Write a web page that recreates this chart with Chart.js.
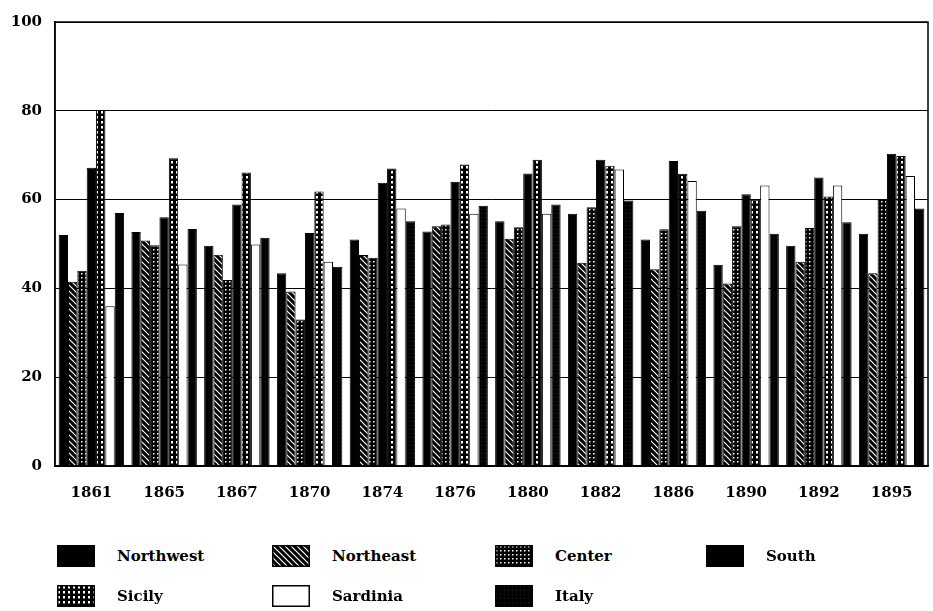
<!DOCTYPE html>
<html lang="en">
<head>
    <meta charset="UTF-8">
    <title>Voter turnout by region</title>
    <script src="https://cdn.jsdelivr.net/npm/chart.js"></script>
    <style>
        body { margin: 0; background: #fff; width: 933px; height: 611px; overflow: hidden; position: relative; }
        #grafico { position: absolute; left: 0; top: 0; }
        .legenda { position: absolute; left: 57px; top: 544px; display: grid;
            grid-template-columns: 215px 223px 211px 200px; row-gap: 16px;
            font-family: "DejaVu Serif", serif; font-weight: bold; font-size: 15px; color: #000; }
        .item { display: flex; align-items: center; height: 24px; }
        .item canvas { margin-right: 22px; }
    </style>
</head>
<body>
    <canvas id="grafico" width="933" height="520"></canvas>
    <div class="legenda" id="legenda"></div>

<script>
    const anos = ['1861', '1865', '1867', '1870', '1874', '1876', '1880', '1882', '1886', '1890', '1892', '1895'];
    const northwest = [52, 52.7, 49.6, 43.4, 51, 52.8, 55.1, 56.8, 51, 45.3, 49.6, 52.3];
    const northeast = [41.5, 50.8, 47.6, 39.3, 47.5, 54, 51.2, 45.8, 44.3, 41.1, 46, 43.4];
    const center = [44, 49.7, 41.9, 33, 46.9, 54.4, 53.8, 58.3, 53.3, 54, 53.6, 59.9];
    const south = [67.2, 56, 58.9, 52.5, 63.8, 64, 65.9, 69, 68.7, 61.2, 65, 70.3];
    const sicily = [80.2, 69.3, 66.1, 61.8, 67, 67.9, 69, 67.6, 65.8, 60, 60.7, 69.8];
    const sardinia = [36, 45.4, 49.9, 46, 58, 56.8, 56.8, 66.8, 64.2, 63.2, 63.2, 65.3];
    const italy = [57, 53.4, 51.4, 44.9, 55.1, 58.6, 58.9, 59.8, 57.5, 52.3, 54.9, 58];
    const ticksY = [0, 20, 40, 60, 80, 100];

    // padroes de preenchimento (preto e branco, como no original)
    function padrao(tam, desenho) {
        const c = document.createElement('canvas');
        c.width = tam; c.height = tam;
        const g = c.getContext('2d');
        desenho(g, tam);
        return g.createPattern(c, 'repeat');
    }
    const ctxBase = document.getElementById('grafico').getContext('2d');

    function fazerPadroes(g0) {
        return {
            solido: '#000',
            hachura: padrao(6, (g, t) => {
                g.fillStyle = '#000'; g.fillRect(0, 0, t, t);
                g.strokeStyle = '#fff'; g.lineWidth = 1.2;
                g.beginPath(); g.moveTo(0, 0); g.lineTo(t, t);
                g.moveTo(-1, t - 1); g.lineTo(1, t + 1);
                g.moveTo(t - 1, -1); g.lineTo(t + 1, 1); g.stroke();
            }),
            pontos: padrao(4, (g, t) => {
                g.fillStyle = '#000'; g.fillRect(0, 0, t, t);
                g.fillStyle = '#fff'; g.fillRect(1, 1, 1.5, 1.5);
            }),
            grade: padrao(5, (g, t) => {
                g.fillStyle = '#000'; g.fillRect(0, 0, t, t);
                g.fillStyle = '#fff'; g.fillRect(1, 1, 2, 2.5);
            }),
            italia: padrao(4, (g, t) => {
                g.fillStyle = '#000'; g.fillRect(0, 0, t, t);
                g.fillStyle = '#222'; g.fillRect(1, 1, 1, 1);
            })
        };
    }
    const p = fazerPadroes(ctxBase);

    const series = [
        { label: 'Northwest', data: northwest, fundo: p.solido, borda: '#000' },
        { label: 'Northeast', data: northeast, fundo: p.hachura, borda: '#000' },
        { label: 'Center', data: center, fundo: p.pontos, borda: '#000' },
        { label: 'South', data: south, fundo: p.solido, borda: '#000' },
        { label: 'Sicily', data: sicily, fundo: p.grade, borda: '#000' },
        { label: 'Sardinia', data: sardinia, fundo: '#fff', borda: '#000' },
        { label: 'Italy', data: italy, fundo: p.italia, borda: '#000' }
    ];

    const moldura = {
        id: 'moldura',
        afterDraw(chart) {
            const a = chart.chartArea, g = chart.ctx;
            g.save(); g.strokeStyle = '#000'; g.lineWidth = 1.5;
            g.strokeRect(a.left, a.top, a.right - a.left, a.bottom - a.top);
            g.restore();
        }
    };

    const fonte = { family: '"DejaVu Serif", serif', weight: 'bold', size: 15 };

    new Chart(document.getElementById('grafico'), {
        type: 'bar',
        data: {
            labels: anos,
            datasets: series.map(s => ({
                label: s.label, data: s.data,
                backgroundColor: s.fundo, borderColor: s.borda,
                borderWidth: 1, borderSkipped: 'bottom',
                categoryPercentage: 0.9, barPercentage: 1
            }))
        },
        options: {
            responsive: false,
            animation: false,
            layout: { padding: { top: 18, right: 5, left: 0, bottom: 0 } },
            plugins: { legend: { display: false }, tooltip: { enabled: false } },
            scales: {
                x: {
                    grid: { display: false, drawTicks: false },
                    border: { display: true, color: '#000', width: 1.5 },
                    ticks: { color: '#000', font: fonte, padding: 18, maxRotation: 0 },
                    afterFit: s => { s.height = 54; }
                },
                y: {
                    min: 0, max: 100,
                    afterBuildTicks: s => { s.ticks = ticksY.map(v => ({ value: v })); },
                    grid: { color: '#000', lineWidth: 1, drawTicks: false },
                    border: { display: true, color: '#000', width: 1.5 },
                    ticks: { color: '#000', font: fonte, padding: 13 },
                    afterFit: s => { s.width = 55; }
                }
            }
        },
        plugins: [moldura]
    });

    // legenda em html, 4 colunas como no original
    const legenda = document.getElementById('legenda');
    series.forEach(s => {
        const item = document.createElement('div');
        item.className = 'item';
        const amostra = document.createElement('canvas');
        amostra.width = 38; amostra.height = 22;
        const g = amostra.getContext('2d');
        g.fillStyle = s.fundo; g.fillRect(0, 0, 38, 22);
        g.strokeStyle = '#000'; g.lineWidth = 1.5; g.strokeRect(0.75, 0.75, 36.5, 20.5);
        const texto = document.createElement('span');
        texto.textContent = s.label;
        item.appendChild(amostra);
        item.appendChild(texto);
        legenda.appendChild(item);
    });
</script>
</body>
</html>
